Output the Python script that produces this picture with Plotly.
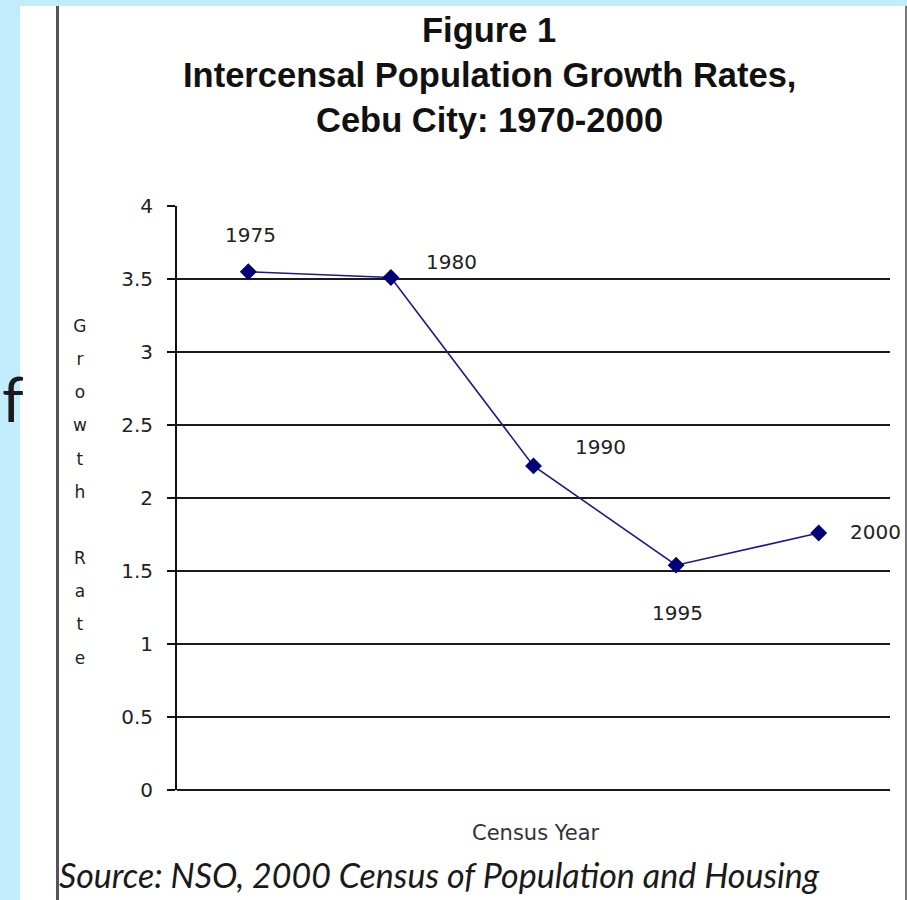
import plotly.graph_objects as go

# ---- data ----
years = ["1975", "1980", "1990", "1995", "2000"]
growth_rate = [3.55, 3.51, 2.22, 1.54, 1.76]
y_ticks = [0, 0.5, 1, 1.5, 2, 2.5, 3, 3.5, 4]
y_tick_labels = ["0", "0.5", "1", "1.5", "2", "2.5", "3", "3.5", "4"]
title_lines = ["Figure 1", "Intercensal Population Growth Rates,", "Cebu City: 1970-2000"]
y_title_letters = ["G", "r", "o", "w", "t", "h", "&nbsp;", "R", "a", "t", "e"]
x_title = "Census Year"
source_text = "Source: NSO, 2000 Census of Population and Housing"

# label offsets (pixels) for each point label
label_dx = [2, 61, 67, 1, 57]
label_dy = [37, 16, 19, -48, 1]
title_centers_px = [30, 75, 120]

W, H = 907, 900
PL, PR, PT, PB = 177, 890, 206, 790


def px(x):
    return (x - PL) / (PR - PL)


def py(y):
    return (PB - y) / (PB - PT)


fig = go.Figure()
fig.add_trace(go.Scatter(
    x=years, y=growth_rate, mode="lines+markers",
    line=dict(color="#1a1a8c", width=1.6),
    marker=dict(symbol="diamond", size=13, color="#00007a"),
    hoverinfo="skip", showlegend=False,
))

annotations = []
for i, (yr, v, dx, dy) in enumerate(zip(years, growth_rate, label_dx, label_dy)):
    annotations.append(dict(
        x=i, y=v, xref="x", yref="y", text=yr, showarrow=False,
        xshift=dx, yshift=dy, xanchor="center", yanchor="middle",
        font=dict(family="DejaVu Sans", size=20, color="#222"),
    ))

for line, cy in zip(title_lines, title_centers_px):
    annotations.append(dict(
        x=px(489), y=py(cy), xref="paper", yref="paper", text=f"<b>{line}</b>",
        showarrow=False, xanchor="center", yanchor="middle",
        font=dict(family="Liberation Sans, Arial", size=34.5, color="#111"),
    ))

# vertical stacked y title
letters = "<br>".join(f"<span style='font-size:17px'>{c}</span>" for c in y_title_letters)
annotations.append(dict(
    x=px(80), y=py(492), xref="paper", yref="paper", text=letters,
    showarrow=False, xanchor="center", yanchor="middle", align="center",
    font=dict(family="DejaVu Sans", size=25.5, color="#222"),
))

annotations.append(dict(
    x=px(536), y=py(833), xref="paper", yref="paper", text=x_title,
    showarrow=False, xanchor="center", yanchor="middle",
    font=dict(family="DejaVu Sans", size=21, color="#333"),
))

annotations.append(dict(
    x=px(57), y=py(874), xref="paper", yref="paper", text=f"<i>{source_text}</i>",
    showarrow=False, xanchor="left", yanchor="middle",
    font=dict(family="Lato", size=34, color="#1a1a1a"),
))

annotations.append(dict(
    x=px(0), y=py(398), xref="paper", yref="paper", text="f",
    showarrow=False, xanchor="left", yanchor="middle",
    font=dict(family="Lato", size=62, color="#1b1b1b"),
))

shapes = [
    dict(type="rect", xref="paper", yref="paper", x0=px(20), x1=px(905), y0=py(6), y1=py(905),
         fillcolor="white", line=dict(width=0), layer="below"),
    dict(type="line", xref="paper", yref="paper", x0=px(57.5), x1=px(57.5), y0=py(6), y1=py(905),
         line=dict(color="#555", width=3)),
    dict(type="line", xref="paper", yref="paper", x0=px(906), x1=px(906), y0=py(6), y1=py(905),
         line=dict(color="#777", width=2)),
]

fig.update_layout(
    width=W, height=H,
    margin=dict(l=PL, r=W - PR, t=PT, b=H - PB),
    paper_bgcolor="#c2ecfb",
    plot_bgcolor="white",
    annotations=annotations,
    shapes=shapes,
    xaxis=dict(
        type="category", range=[-0.5, len(years) - 0.5],
        showticklabels=False, showgrid=False, zeroline=False, showline=False, ticks="",
    ),
    yaxis=dict(
        range=[0, 4], tickvals=y_ticks, ticktext=y_tick_labels,
        showgrid=True, gridcolor="#1a1a1a", gridwidth=2,
        zeroline=True, zerolinecolor="#1a1a1a", zerolinewidth=2,
        showline=True, linecolor="#111", linewidth=2,
        ticks="outside", ticklen=8, tickwidth=2, tickcolor="#111",
        ticklabelstandoff=10,
        tickfont=dict(family="DejaVu Sans", size=20, color="#222"),
    ),
)

fig.write_html(
    "out.html",
    config={"displayModeBar": False},
    post_script="document.body.style.margin='0';document.body.style.padding='0';",
)
